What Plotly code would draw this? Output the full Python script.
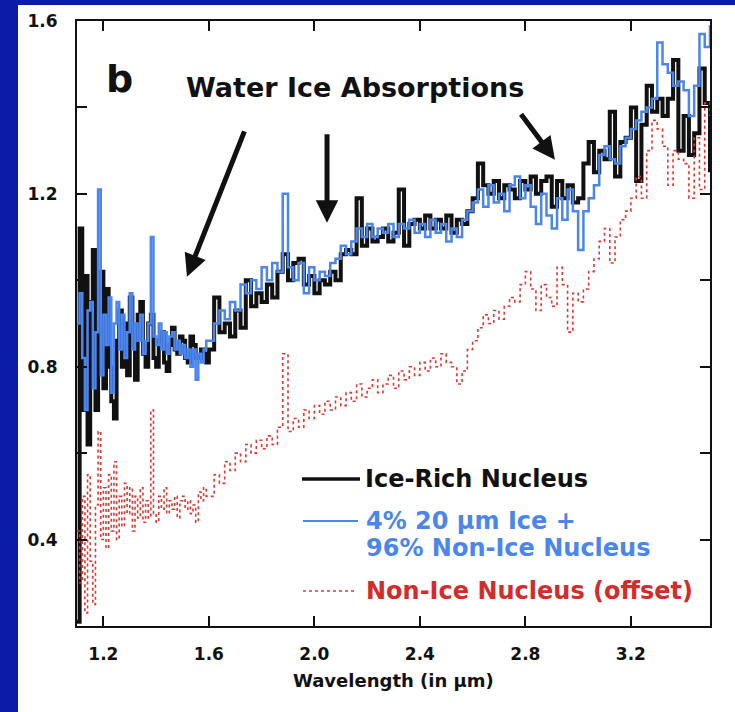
import plotly.graph_objects as go

# Wavelength grid (µm): 0.01 µm sampling below 1.6 µm, 0.02 µm above
WAVELENGTH = [
    1.10, 1.11, 1.12, 1.13, 1.14, 1.15, 1.16, 1.17, 1.18, 1.19,
    1.20, 1.21, 1.22, 1.23, 1.24, 1.25, 1.26, 1.27, 1.28, 1.29,
    1.30, 1.31, 1.32, 1.33, 1.34, 1.35, 1.36, 1.37, 1.38, 1.39,
    1.40, 1.41, 1.42, 1.43, 1.44, 1.45, 1.46, 1.47, 1.48, 1.49,
    1.50, 1.51, 1.52, 1.53, 1.54, 1.55, 1.56, 1.57, 1.58, 1.59,
    1.60, 1.62, 1.64, 1.66, 1.68,
    1.70, 1.72, 1.74, 1.76, 1.78, 1.80, 1.82, 1.84, 1.86, 1.88,
    1.90, 1.92, 1.94, 1.96, 1.98, 2.00, 2.02, 2.04, 2.06, 2.08,
    2.10, 2.12, 2.14, 2.16, 2.18, 2.20, 2.22, 2.24, 2.26, 2.28,
    2.30, 2.32, 2.34, 2.36, 2.38, 2.40, 2.42, 2.44, 2.46, 2.48,
    2.50, 2.52, 2.54, 2.56, 2.58, 2.60, 2.62, 2.64, 2.66, 2.68,
    2.70, 2.72, 2.74, 2.76, 2.78, 2.80, 2.82, 2.84, 2.86, 2.88,
    2.90, 2.92, 2.94, 2.96, 2.98, 3.00, 3.02, 3.04, 3.06, 3.08,
    3.10, 3.12, 3.14, 3.16, 3.18, 3.20, 3.22, 3.24, 3.26, 3.28,
    3.30, 3.32, 3.34, 3.36, 3.38, 3.40, 3.42, 3.44, 3.46, 3.48,
    3.50,
]

# Ice-rich nucleus reflectance
ICE_RICH = [
    0.21, 1.12, 0.70, 1.01, 0.62, 0.95, 1.07, 0.70, 0.88, 1.02,
    0.75, 0.98, 0.80, 0.72, 0.68, 0.86, 0.93, 0.80, 0.90, 0.78,
    0.96, 0.85, 0.77, 0.92, 0.95, 0.83, 0.80, 0.90, 0.92, 0.82,
    0.80, 0.86, 0.88, 0.81, 0.79, 0.85, 0.89, 0.84, 0.83, 0.87,
    0.86, 0.82, 0.81, 0.87, 0.85, 0.82, 0.82, 0.84, 0.83, 0.81,
    0.84, 0.96, 0.88, 0.90, 0.87,
    0.93, 0.89, 1.00, 0.94, 0.97, 0.95, 0.99, 0.96, 1.02, 1.06,
    1.00, 1.04, 1.05, 0.99, 1.01, 0.97, 1.00, 0.99, 1.02, 1.00,
    1.06, 1.07, 1.06, 1.19, 1.08, 1.12, 1.09, 1.10, 1.12, 1.09,
    1.11, 1.21, 1.08, 1.13, 1.14, 1.12, 1.15, 1.12, 1.14, 1.12,
    1.15, 1.11, 1.14, 1.13, 1.16, 1.19, 1.27, 1.22, 1.20, 1.23,
    1.19, 1.22, 1.21, 1.19, 1.23, 1.21, 1.24, 1.20, 1.23, 1.24,
    1.17, 1.23, 1.19, 1.22, 1.18, 1.19, 1.27, 1.32, 1.25, 1.30,
    1.28, 1.39, 1.24, 1.32, 1.33, 1.40, 1.23, 1.36, 1.45, 1.39,
    1.42, 1.38, 1.42, 1.51, 1.30, 1.38, 1.29, 1.34, 1.49, 1.41,
    1.25,
]

# Model: 4% 20 µm ice + 96% non-ice nucleus
ICE_MODEL = [
    0.90, 0.97, 0.82, 0.70, 0.93, 0.95, 0.75, 0.88, 1.21, 0.78,
    0.92, 0.85, 0.96, 0.74, 0.90, 0.95, 0.84, 0.92, 0.82, 0.88,
    0.97, 0.84, 0.90, 0.86, 0.92, 0.83, 0.86, 0.90, 1.10, 0.87,
    0.85, 0.90, 0.84, 0.88, 0.83, 0.87, 0.88, 0.84, 0.86, 0.83,
    0.85, 0.82, 0.84, 0.80, 0.84, 0.77, 0.83, 0.81, 0.84, 0.86,
    0.86, 0.90, 0.93, 0.91, 0.95,
    0.93, 0.99, 0.97, 1.00, 0.98, 1.03, 1.00, 1.04, 1.02, 1.20,
    1.03, 1.00, 1.04, 0.97, 1.03, 1.00, 1.02, 1.01, 1.04, 1.05,
    1.08, 1.06, 1.09, 1.12, 1.10, 1.13, 1.10, 1.12, 1.11, 1.13,
    1.10, 1.13, 1.12, 1.14, 1.11, 1.13, 1.10, 1.14, 1.11, 1.13,
    1.09, 1.12, 1.10, 1.14, 1.16, 1.18, 1.21, 1.17, 1.22, 1.18,
    1.20, 1.16, 1.22, 1.24, 1.19, 1.22, 1.17, 1.13, 1.20, 1.15,
    1.12, 1.19, 1.14, 1.21, 1.16, 1.07, 1.16, 1.19, 1.22, 1.29,
    1.31, 1.28, 1.27, 1.31, 1.33, 1.35, 1.37, 1.39, 1.40, 1.42,
    1.55, 1.50, 1.48, 1.45, 1.46, 1.44, 1.38, 1.45, 1.57, 1.54,
    1.59,
]

# Non-ice nucleus (offset)
NON_ICE = [
    0.42, 0.30, 0.50, 0.23, 0.55, 0.35, 0.25, 0.48, 0.65, 0.40,
    0.52, 0.38, 0.55, 0.42, 0.58, 0.40, 0.50, 0.43, 0.53, 0.46,
    0.52, 0.42, 0.50, 0.45, 0.52, 0.44, 0.49, 0.45, 0.70, 0.46,
    0.44, 0.50, 0.47, 0.52, 0.46, 0.49, 0.47, 0.50, 0.45, 0.49,
    0.50, 0.47, 0.49, 0.46, 0.48, 0.44, 0.51, 0.49, 0.52, 0.50,
    0.50, 0.55, 0.53, 0.58, 0.56,
    0.60, 0.58, 0.62, 0.60, 0.63, 0.61, 0.64, 0.62, 0.66, 0.83,
    0.65, 0.68, 0.66, 0.70, 0.68, 0.71, 0.69, 0.72, 0.70, 0.73,
    0.71, 0.74, 0.72, 0.76, 0.73, 0.75, 0.77, 0.74, 0.76, 0.78,
    0.75, 0.79, 0.77, 0.80, 0.78, 0.81, 0.79, 0.82, 0.80, 0.83,
    0.81, 0.80, 0.76, 0.79, 0.84, 0.86, 0.89, 0.92, 0.90, 0.93,
    0.91, 0.94, 0.96, 0.95, 0.99, 1.02, 0.98, 0.93, 0.99, 0.96,
    0.94, 1.03, 0.99, 0.88, 0.97, 0.95, 0.98, 1.02, 1.05, 1.09,
    1.12, 1.04, 1.10, 1.14, 1.16, 1.19, 1.24, 1.19, 1.30, 1.37,
    1.35, 1.31, 1.22, 1.30, 1.28, 1.27, 1.19, 1.33, 1.21, 1.41,
    1.38,
]

X_TICKS = [1.2, 1.6, 2.0, 2.4, 2.8, 3.2]
Y_TICKS = [0.4, 0.6, 0.8, 1.0, 1.2, 1.4, 1.6]
Y_TICK_TEXT = ["0.4", "", "0.8", "", "1.2", "", "1.6"]

assert len(WAVELENGTH) == len(ICE_RICH) == len(ICE_MODEL) == len(NON_ICE)

BLACK = "#111111"
BLUE = "#4a86ee"
RED = "#e0362f"
RED_TEXT = "#d42b2b"
FRAME_BLUE = "#0b1ca8"
FONT = "DejaVu Sans"

fig = go.Figure()
fig.add_trace(go.Scatter(x=WAVELENGTH, y=ICE_RICH, mode="lines", name="Ice-Rich Nucleus",
                         line=dict(color=BLACK, width=4, shape="hv")))
fig.add_trace(go.Scatter(x=WAVELENGTH, y=ICE_MODEL, mode="lines",
                         name="4% 20 µm Ice + 96% Non-Ice Nucleus",
                         line=dict(color=BLUE, width=2.5, shape="hv")))
fig.add_trace(go.Scatter(x=WAVELENGTH, y=NON_ICE, mode="lines", name="Non-Ice Nucleus (offset)",
                         line=dict(color=RED, width=1.6, shape="hv", dash="dot")))

# plot area geometry (px)
L, R, T, B = 77, 710, 21, 626
W_FIG, H_FIG = 735, 712
PW, PH = R - L, B - T


def px(x):
    return (x - L) / PW


def py(y):
    return (B - y) / PH


shapes = [
    # dark blue frame strips on the left and top
    dict(type="rect", xref="paper", yref="paper", x0=px(0), x1=px(18), y0=py(H_FIG), y1=py(0),
         fillcolor=FRAME_BLUE, line=dict(width=0), layer="below"),
    dict(type="rect", xref="paper", yref="paper", x0=px(0), x1=px(W_FIG), y0=py(5), y1=py(0),
         fillcolor=FRAME_BLUE, line=dict(width=0), layer="below"),
    # legend samples
    dict(type="line", xref="paper", yref="paper", x0=px(302), x1=px(360), y0=py(479), y1=py(479),
         line=dict(color=BLACK, width=3.5)),
    dict(type="line", xref="paper", yref="paper", x0=px(303), x1=px(358), y0=py(521), y1=py(521),
         line=dict(color=BLUE, width=2)),
    dict(type="line", xref="paper", yref="paper", x0=px(303), x1=px(357), y0=py(591), y1=py(591),
         line=dict(color=RED, width=1.5, dash="dot")),
]

bold = dict(family=FONT, weight="bold")
annotations = [
    dict(text="b", xref="paper", yref="paper", x=px(104), y=py(79), xanchor="left", yanchor="middle",
         showarrow=False, font=dict(size=38, color=BLACK, **bold)),
    dict(text="Water Ice Absorptions", xref="paper", yref="paper", x=px(355), y=py(88),
         xanchor="center", yanchor="middle", showarrow=False, font=dict(size=27, color=BLACK, **bold)),
    dict(text="Ice-Rich Nucleus", xref="paper", yref="paper", x=px(363), y=py(479),
         xanchor="left", yanchor="middle", showarrow=False, font=dict(size=24, color=BLACK, **bold)),
    dict(text="4% 20 µm Ice +", xref="paper", yref="paper", x=px(364), y=py(521),
         xanchor="left", yanchor="middle", showarrow=False, font=dict(size=24, color=BLUE, **bold)),
    dict(text="96% Non-Ice Nucleus", xref="paper", yref="paper", x=px(364), y=py(548),
         xanchor="left", yanchor="middle", showarrow=False, font=dict(size=24, color=BLUE, **bold)),
    dict(text="Non-Ice Nucleus (offset)", xref="paper", yref="paper", x=px(364), y=py(591),
         xanchor="left", yanchor="middle", showarrow=False, font=dict(size=24, color=RED_TEXT, **bold)),
    dict(text="Wavelength (in µm)", xref="paper", yref="paper", x=0.5, y=py(680),
         xanchor="center", yanchor="middle", showarrow=False, font=dict(size=18, color=BLACK, **bold)),
]

# absorption arrows: tip in data coordinates, tail offset in pixels
for tip_x, tip_y, ax, ay in [(1.517, 1.008, 58, -147), (2.048, 1.133, 0, -90), (2.912, 1.279, -35, -47)]:
    annotations.append(dict(x=tip_x, y=tip_y, xref="x", yref="y", ax=ax, ay=ay, text="",
                            showarrow=True, arrowhead=2, arrowsize=0.9, arrowwidth=5,
                            arrowcolor=BLACK, standoff=0))

fig.update_layout(
    width=W_FIG, height=H_FIG,
    margin=dict(l=L, r=W_FIG - R, t=T, b=H_FIG - B, pad=0),
    paper_bgcolor="white", plot_bgcolor="white",
    showlegend=False,
    shapes=shapes, annotations=annotations,
    font=dict(family=FONT, color=BLACK),
)
fig.update_xaxes(range=[1.1, 3.5], tickvals=X_TICKS, ticktext=[f"{v:.1f}" for v in X_TICKS],
                 ticks="inside", ticklen=10, tickwidth=2, tickcolor=BLACK,
                 showline=True, linewidth=2, linecolor=BLACK, mirror="ticks",
                 showgrid=False, zeroline=False, ticklabelstandoff=12,
                 tickfont=dict(size=17, color=BLACK, **bold))
fig.update_yaxes(range=[0.2, 1.6], tickvals=Y_TICKS, ticktext=Y_TICK_TEXT,
                 ticks="inside", ticklen=10, tickwidth=2, tickcolor=BLACK,
                 showline=True, linewidth=2, linecolor=BLACK, mirror="ticks",
                 showgrid=False, zeroline=False, ticklabelstandoff=14,
                 tickfont=dict(size=17, color=BLACK, **bold))

fig.write_html("out.html")
